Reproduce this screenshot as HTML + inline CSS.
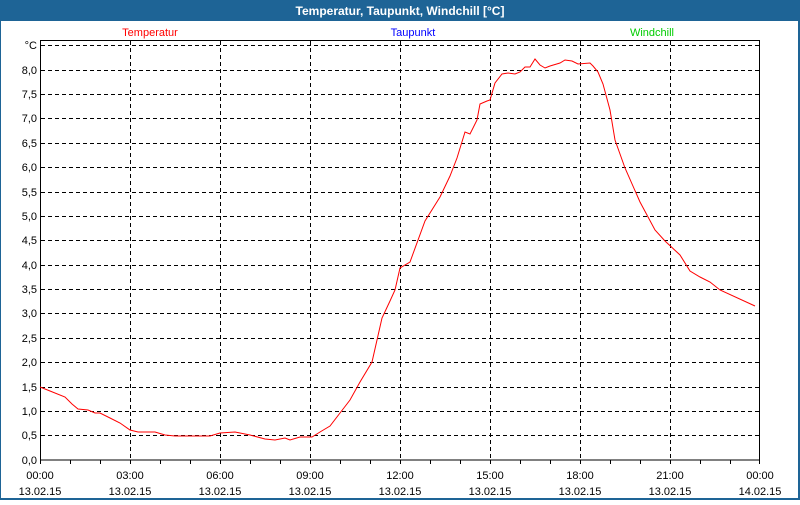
<!DOCTYPE html>
<html><head><meta charset="utf-8"><style>
body{margin:0;width:800px;height:500px;overflow:hidden;background:#fff;font-family:"Liberation Sans",sans-serif}
</style></head><body>
<svg width="800" height="500" xmlns="http://www.w3.org/2000/svg" font-family="Liberation Sans, sans-serif">
<rect x="0" y="0" width="800" height="500" fill="#1e6496"/>
<rect x="1" y="21" width="797" height="477" fill="#fff"/>
<text x="400" y="15" fill="#fff" font-size="12" font-weight="bold" text-anchor="middle">Temperatur, Taupunkt, Windchill [°C]</text>
<text x="150" y="36" fill="#f00" font-size="11" text-anchor="middle">Temperatur</text>
<text x="413" y="36" fill="#00f" font-size="11" text-anchor="middle">Taupunkt</text>
<text x="652" y="36" fill="#0c0" font-size="11" text-anchor="middle">Windchill</text>
<g stroke="#000" stroke-width="1" stroke-dasharray="4,3" fill="none">
<path d="M41 45.5H760M41 70.5H760M41 94.5H760M41 118.5H760M41 143.5H760M41 167.5H760M41 192.5H760M41 216.5H760M41 240.5H760M41 265.5H760M41 289.5H760M41 313.5H760M41 338.5H760M41 362.5H760M41 387.5H760M41 411.5H760M41 435.5H760"/>
<path d="M130.5 41V460M220.5 41V460M310.5 41V460M400.5 41V460M490.5 41V460M580.5 41V460M670.5 41V460"/>
</g>
<rect x="40.5" y="40.5" width="719" height="419.5" fill="none" stroke="#000"/>
<g stroke="#000"><path d="M70.5 460v4M100.5 460v4M130.5 460v4M160.5 460v4M190.5 460v4M220.5 460v4M250.5 460v4M280.5 460v4M310.5 460v4M340.5 460v4M370.5 460v4M400.5 460v4M430.5 460v4M460.5 460v4M490.5 460v4M520.5 460v4M550.5 460v4M580.5 460v4M610.5 460v4M640.5 460v4M670.5 460v4M700.5 460v4M730.5 460v4M759.5 460v4M40.5 460v4"/></g>
<g font-size="11" fill="#000" text-anchor="end">
<text x="37" y="49">°C</text><text x="37" y="74">8,0</text><text x="37" y="98">7,5</text><text x="37" y="122">7,0</text><text x="37" y="147">6,5</text><text x="37" y="171">6,0</text><text x="37" y="196">5,5</text><text x="37" y="220">5,0</text><text x="37" y="244">4,5</text><text x="37" y="269">4,0</text><text x="37" y="293">3,5</text><text x="37" y="317">3,0</text><text x="37" y="342">2,5</text><text x="37" y="366">2,0</text><text x="37" y="391">1,5</text><text x="37" y="415">1,0</text><text x="37" y="439">0,5</text><text x="37" y="464">0,0</text>
</g>
<g font-size="11" fill="#000" text-anchor="middle">
<text x="40" y="479">00:00</text><text x="40" y="495">13.02.15</text>
<text x="130" y="479">03:00</text><text x="130" y="495">13.02.15</text>
<text x="220" y="479">06:00</text><text x="220" y="495">13.02.15</text>
<text x="310" y="479">09:00</text><text x="310" y="495">13.02.15</text>
<text x="400" y="479">12:00</text><text x="400" y="495">13.02.15</text>
<text x="490" y="479">15:00</text><text x="490" y="495">13.02.15</text>
<text x="580" y="479">18:00</text><text x="580" y="495">13.02.15</text>
<text x="670" y="479">21:00</text><text x="670" y="495">13.02.15</text>
<text x="760" y="479">00:00</text><text x="760" y="495">14.02.15</text>
</g>
<polyline fill="none" stroke="#f00" stroke-width="1" points="40,387 50,391 65,397 72,404 78,409 88,410 95,413 100,413 110,418 120,423 130,430 138,432 155,432 165,435 175,436 210,436 220,433 235,432 250,435 265,439 275,440 285,438 290,440 300,437 312,437 320,432 330,426 340,413 350,400 360,382 372,362 382,318 390,301 395,290 400,268 410,262 425,221 440,197 450,176 457,158 465,132 470,134 477,120 480,104 487,101 490,100 495,83 502,74 508,73 515,74 520,72 525,67 530,67 535,59 540,65 545,68 550,66 560,63 565,60 572,61 578,64 590,63 593,66 598,72 603,84 610,110 615,140 625,168 640,202 655,230 665,241 680,255 690,271 700,277 710,282 720,290 755,306"/>
</svg>
</body></html>
